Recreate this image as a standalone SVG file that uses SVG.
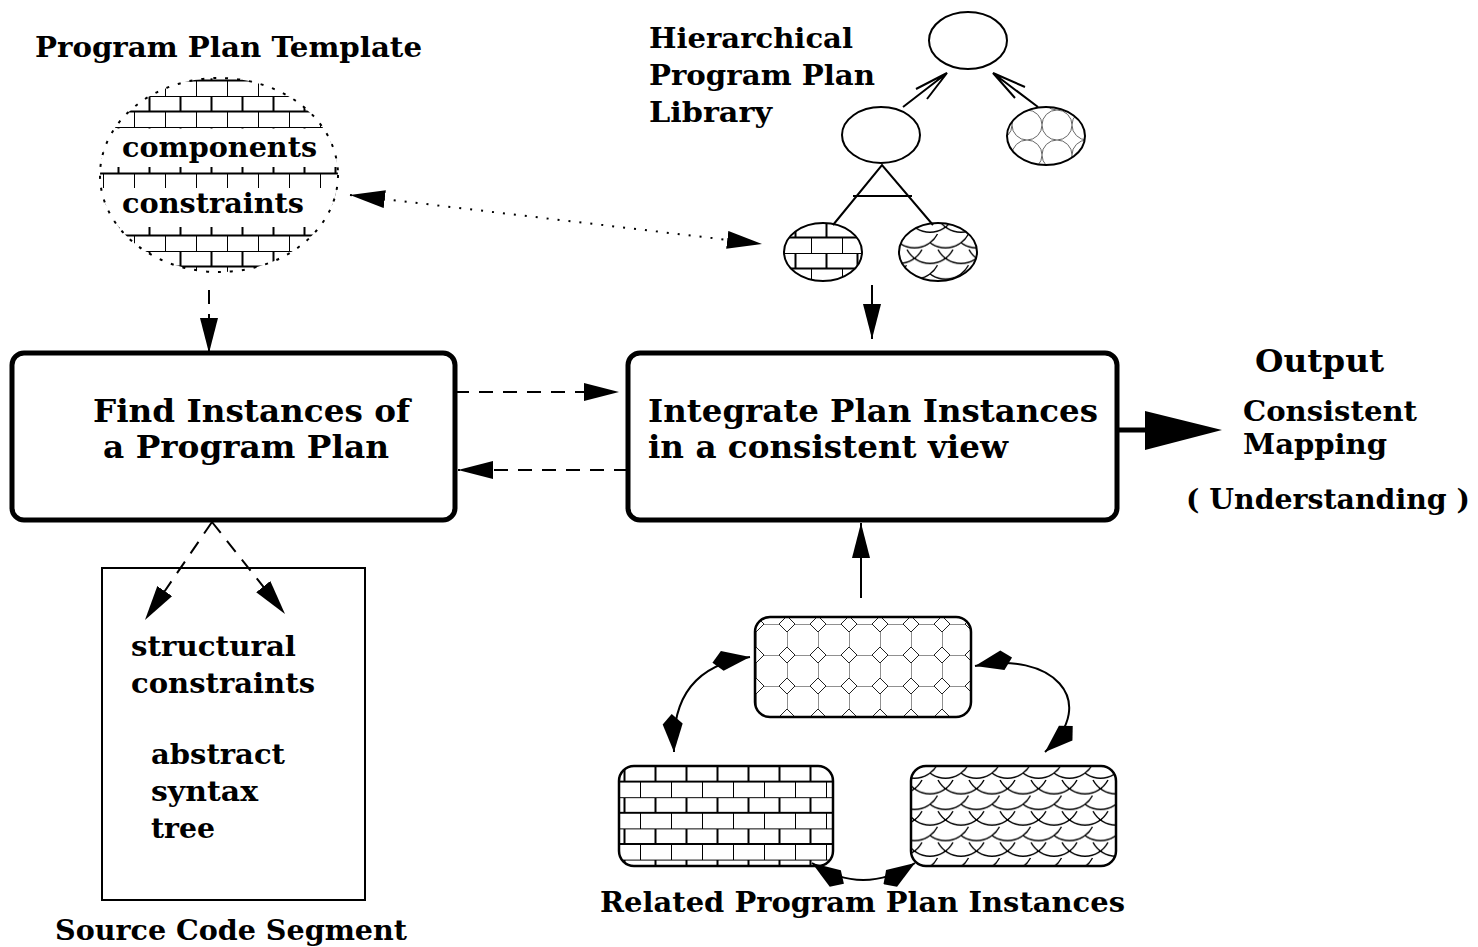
<svg xmlns="http://www.w3.org/2000/svg" width="1478" height="947" viewBox="0 0 1478 947">
  <style>
    .t { font-family: "DejaVu Serif", "Liberation Serif", serif; font-weight: bold; fill: #000; }
    .s28 { font-size: 28px; }
    .s32 { font-size: 32px; }
    .box { fill: #fff; stroke: #000; stroke-width: 5; }
    .dash { fill: none; stroke: #000; stroke-width: 2; stroke-dasharray: 14 10; }
    .ln { fill: none; stroke: #000; stroke-width: 2; }
    .head { fill: #000; stroke: none; }
  </style>
  <defs>
    <!-- brick texture -->
    <pattern id="brickA" patternUnits="userSpaceOnUse" x="10" y="3" width="31" height="31">
      <path d="M0 0H31M0 15.5H31M15.5 0V15.5M0 15.5V31" stroke="#000" stroke-width="2" fill="none"/>
    </pattern>
    <pattern id="brickB" patternUnits="userSpaceOnUse" x="5" y="5" width="31" height="31">
      <path d="M0 0H31M0 15.5H31M15.5 0V15.5M0 15.5V31" stroke="#000" stroke-width="2" fill="none"/>
    </pattern>
    <pattern id="brickC" patternUnits="userSpaceOnUse" x="20" y="766" width="31" height="31.2">
      <path d="M0 0H31M0 15.6H31M15.5 0V15.6M0 15.6V31.2" stroke="#000" stroke-width="2" fill="none"/>
    </pattern>
    <!-- fish-scale texture -->
    <pattern id="scale" patternUnits="userSpaceOnUse" x="0" y="0" width="31" height="31.2">
      <path d="M-23 0A26 26 0 0 0 23 0M8 0A26 26 0 0 0 54 0M-7.5 15.6A26 26 0 0 0 38.5 15.6M-38.5 15.6A26 26 0 0 0 7.5 15.6M-23 31.2A26 26 0 0 0 23 31.2M8 31.2A26 26 0 0 0 54 31.2" stroke="#000" stroke-width="1.4" fill="none"/>
    </pattern>
    <!-- octagon and square texture -->
    <pattern id="octa" patternUnits="userSpaceOnUse" x="12" y="4" width="31" height="31">
      <path d="M8 0H23M0 8V23M8 0L0 8M23 0L31 8M0 23L8 31M31 23L23 31" stroke="#222" stroke-width="1" fill="none"/>
    </pattern>
    <!-- circle texture -->
    <pattern id="circ" patternUnits="userSpaceOnUse" x="1012" y="110" width="30" height="30">
      <circle cx="15" cy="15" r="15" stroke="#666" stroke-width="1" fill="none"/>
    </pattern>
    <clipPath id="tplClip">
      <ellipse cx="219" cy="175" rx="119" ry="97"/>
    </clipPath>
    <marker id="tri" markerUnits="userSpaceOnUse" orient="auto-start-reverse" markerWidth="36" markerHeight="18" refX="35" refY="9">
      <path d="M0 0L35 9L0 18Z" fill="#000"/>
    </marker>
    <marker id="kite" markerUnits="userSpaceOnUse" orient="auto-start-reverse" markerWidth="40" markerHeight="24" refX="38" refY="12">
      <path d="M38 12L10 2L0 12.5L10 22Z" fill="#000"/>
    </marker>
  </defs>

  <!-- plan template -->
  <g id="template">
    <text class="t s28" x="35" y="57" textLength="387" lengthAdjust="spacingAndGlyphs">Program Plan Template</text>
    <g clip-path="url(#tplClip)">
      <rect x="95" y="75" width="250" height="200" fill="url(#brickA)"/>
      <rect x="95" y="128.5" width="250" height="38.5" fill="#fff"/>
      <rect x="95" y="188" width="250" height="39" fill="#fff"/>
    </g>
    <ellipse cx="219" cy="175" rx="119" ry="97" fill="none" stroke="#000" stroke-width="2" stroke-dasharray="3 9"/>
    <text class="t s28" x="122" y="157" textLength="195" lengthAdjust="spacingAndGlyphs">components</text>
    <text class="t s28" x="122" y="213" textLength="182" lengthAdjust="spacingAndGlyphs">constraints</text>
  </g>

  <!-- plan library -->
  <g id="library">
    <text class="t s28" x="649" y="48" textLength="204" lengthAdjust="spacingAndGlyphs">Hierarchical</text>
    <text class="t s28" x="649" y="85" textLength="226" lengthAdjust="spacingAndGlyphs">Program Plan</text>
    <text class="t s28" x="649" y="122" textLength="123" lengthAdjust="spacingAndGlyphs">Library</text>
    <path class="ln" d="M903 107L947 73M916 89L947 73L927 99"/>
    <path class="ln" d="M1038 107L993 73M1025 87L993 73L1015 98"/>
    <path class="ln" d="M833 225L882 165L933 225M853 196H912"/>
    <ellipse cx="968" cy="40.5" rx="39" ry="28.5" fill="#fff" stroke="#000" stroke-width="2"/>
    <ellipse cx="881" cy="135" rx="39" ry="28" fill="#fff" stroke="#000" stroke-width="2"/>
    <ellipse cx="1046" cy="136" rx="39" ry="29" fill="url(#circ)" stroke="#000" stroke-width="2"/>
    <ellipse cx="823" cy="252" rx="39" ry="29" fill="url(#brickB)" stroke="#000" stroke-width="2"/>
    <ellipse cx="938" cy="252" rx="39" ry="29" fill="url(#scale)" stroke="#000" stroke-width="2"/>
  </g>

  <!-- process boxes -->
  <g id="find">
    <rect class="box" x="12" y="353" width="443" height="167" rx="12"/>
    <text class="t s32" x="93" y="422" textLength="317" lengthAdjust="spacingAndGlyphs">Find Instances of</text>
    <text class="t s32" x="103" y="458" textLength="286" lengthAdjust="spacingAndGlyphs">a Program Plan</text>
  </g>
  <g id="integrate">
    <rect class="box" x="628" y="353" width="489" height="167" rx="12"/>
    <text class="t s32" x="648" y="422" textLength="450" lengthAdjust="spacingAndGlyphs">Integrate Plan Instances</text>
    <text class="t s32" x="648" y="458" textLength="360" lengthAdjust="spacingAndGlyphs">in a consistent view</text>
  </g>

  <!-- output -->
  <g id="output">
    <text class="t s32" x="1255" y="372" textLength="129" lengthAdjust="spacingAndGlyphs">Output</text>
    <text class="t s28" x="1243" y="421" textLength="174" lengthAdjust="spacingAndGlyphs">Consistent</text>
    <text class="t s28" x="1243" y="454" textLength="144" lengthAdjust="spacingAndGlyphs">Mapping</text>
    <text class="t s28" x="1186" y="509" textLength="284" lengthAdjust="spacingAndGlyphs">( Understanding )</text>
  </g>

  <!-- source code segment -->
  <g id="source">
    <rect x="102" y="568" width="263" height="332" fill="none" stroke="#000" stroke-width="2"/>
    <text class="t s28" x="131" y="656" textLength="165" lengthAdjust="spacingAndGlyphs">structural</text>
    <text class="t s28" x="131" y="693" textLength="184" lengthAdjust="spacingAndGlyphs">constraints</text>
    <text class="t s28" x="151" y="764" textLength="134" lengthAdjust="spacingAndGlyphs">abstract</text>
    <text class="t s28" x="151" y="801" textLength="107" lengthAdjust="spacingAndGlyphs">syntax</text>
    <text class="t s28" x="151" y="838" textLength="64" lengthAdjust="spacingAndGlyphs">tree</text>
    <text class="t s28" x="55" y="940" textLength="352" lengthAdjust="spacingAndGlyphs">Source Code Segment</text>
  </g>

  <!-- related instances -->
  <g id="instances">
    <rect x="755" y="617" width="216" height="100" rx="15" fill="url(#octa)" stroke="#000" stroke-width="2.5"/>
    <rect x="619" y="766" width="214" height="100" rx="15" fill="url(#brickC)" stroke="#000" stroke-width="2.5"/>
    <rect x="911" y="766" width="205" height="100" rx="15" fill="url(#scale)" stroke="#000" stroke-width="2.5"/>
    <text class="t s28" x="600" y="912" textLength="525" lengthAdjust="spacingAndGlyphs">Related Program Plan Instances</text>
  </g>

  <!-- connectors -->
  <g id="connectors">
    <path class="dash" d="M209 290V353" marker-end="url(#tri)"/>
    <path class="dash" d="M455 392H619" marker-end="url(#tri)"/>
    <path class="dash" d="M628 470H458" marker-end="url(#tri)"/>
    <path class="dash" d="M212 522L145 620" marker-end="url(#tri)"/>
    <path class="dash" d="M212 522L285 614" marker-end="url(#tri)"/>
    <path fill="none" stroke="#000" stroke-width="2" stroke-dasharray="2 9" d="M350 195L762 244" marker-start="url(#tri)" marker-end="url(#tri)"/>
    <path class="ln" d="M872 285V339" marker-end="url(#tri)"/>
    <path class="ln" d="M861 598V523" marker-end="url(#tri)"/>
    <path fill="none" stroke="#000" stroke-width="5" d="M1117 430H1150"/>
    <path class="head" d="M1145 411L1222 430L1145 450Z"/>
    <path class="ln" d="M750 657Q670 668 674 752" marker-start="url(#kite)" marker-end="url(#kite)"/>
    <path class="ln" d="M975 666C1050 650 1102 700 1045 752" marker-start="url(#kite)" marker-end="url(#kite)"/>
    <path class="ln" d="M812 863Q863 897 915 863" marker-start="url(#kite)" marker-end="url(#kite)"/>
  </g>
</svg>
